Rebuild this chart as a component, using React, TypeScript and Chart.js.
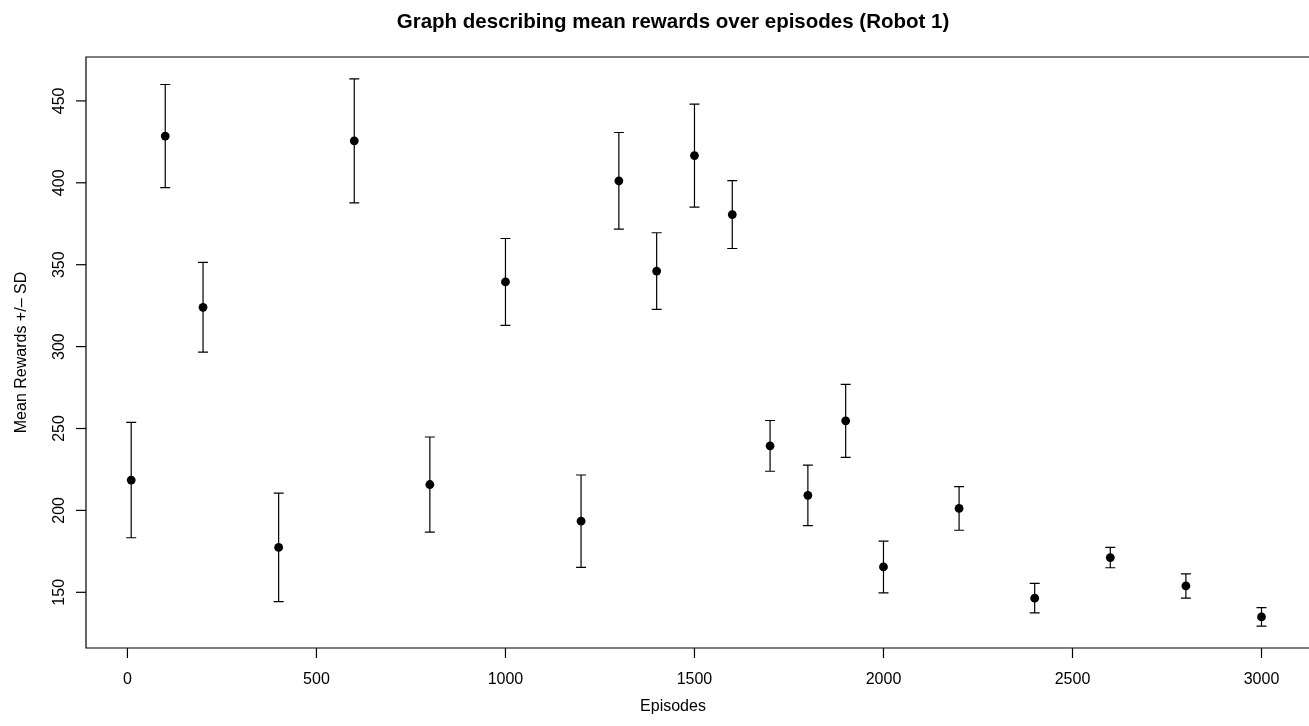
import React, { useEffect, useRef } from "react";
import { Chart, registerables } from "chart.js";

Chart.register(...registerables);

// ---- data ----
const episodes = [10, 100, 200, 400, 600, 800, 1000, 1200, 1300, 1400, 1500, 1600, 1700, 1800, 1900, 2000, 2200, 2400, 2600, 2800, 3000];
const meanRewards = [218.5, 428.5, 324.0, 177.4, 425.6, 215.8, 339.5, 193.4, 401.2, 346.1, 416.6, 380.6, 239.4, 209.2, 254.7, 165.5, 201.2, 146.4, 171.2, 153.9, 135.0];
const sdRewards = [35.2, 31.5, 27.4, 33.1, 37.8, 29.0, 26.5, 28.2, 29.5, 23.4, 31.4, 20.7, 15.5, 18.5, 22.3, 15.8, 13.3, 9.0, 6.2, 7.4, 5.6];

const xTicks = [0, 500, 1000, 1500, 2000, 2500, 3000];
const yTicks = [150, 200, 250, 300, 350, 400, 450];

const chartTitle = "Graph describing mean rewards over episodes (Robot 1)";
const xLabel = "Episodes";
const yLabel = "Mean Rewards +/\u2013 SD";

const FONT = '"Liberation Sans", Arial, Helvetica, sans-serif';

const rPlotPlugin = {
  id: "rPlot",
  beforeDatasetsDraw(chart: any) {
    const { ctx, scales } = chart;
    const x = scales.x;
    const y = scales.y;
    ctx.save();
    ctx.strokeStyle = "#000";
    ctx.lineWidth = 1.2;
    episodes.forEach((e, i) => {
      const px = x.getPixelForValue(e);
      const top = y.getPixelForValue(meanRewards[i] + sdRewards[i]);
      const bot = y.getPixelForValue(meanRewards[i] - sdRewards[i]);
      ctx.beginPath();
      ctx.moveTo(px, top);
      ctx.lineTo(px, bot);
      ctx.moveTo(px - 5, top);
      ctx.lineTo(px + 5, top);
      ctx.moveTo(px - 5, bot);
      ctx.lineTo(px + 5, bot);
      ctx.stroke();
    });
    ctx.restore();
  },
  afterDraw(chart: any) {
    const { ctx, chartArea: a, scales } = chart;
    const x = scales.x;
    const y = scales.y;
    ctx.save();
    ctx.strokeStyle = "#000";
    ctx.lineWidth = 1.2;
    // box (right side falls outside the picture)
    ctx.beginPath();
    ctx.moveTo(a.right + 5, a.top);
    ctx.lineTo(a.left, a.top);
    ctx.lineTo(a.left, a.bottom);
    ctx.lineTo(a.right + 5, a.bottom);
    ctx.stroke();

    // x ticks
    ctx.fillStyle = "#000";
    ctx.font = `16px ${FONT}`;
    ctx.textAlign = "center";
    ctx.textBaseline = "alphabetic";
    xTicks.forEach((t) => {
      const px = x.getPixelForValue(t);
      ctx.beginPath();
      ctx.moveTo(px, a.bottom);
      ctx.lineTo(px, a.bottom + 10);
      ctx.stroke();
      ctx.fillText(String(t), px, a.bottom + 36);
    });

    // y ticks (rotated labels, R style)
    yTicks.forEach((t) => {
      const py = y.getPixelForValue(t);
      ctx.beginPath();
      ctx.moveTo(a.left, py);
      ctx.lineTo(a.left - 10, py);
      ctx.stroke();
      ctx.save();
      ctx.translate(a.left - 22.5, py);
      ctx.rotate(-Math.PI / 2);
      ctx.fillText(String(t), 0, 0);
      ctx.restore();
    });

    // axis titles
    ctx.fillText(xLabel, 673, 711);
    ctx.save();
    ctx.translate(26, (a.top + a.bottom) / 2);
    ctx.rotate(-Math.PI / 2);
    ctx.fillText(yLabel, 0, 0);
    ctx.restore();

    // main title
    ctx.font = `bold 20.5px ${FONT}`;
    ctx.fillText(chartTitle, 673, 28);
    ctx.restore();
  },
};

export default function App() {
  const canvasRef = useRef<HTMLCanvasElement | null>(null);

  useEffect(() => {
    document.body.style.margin = "0";
    document.body.style.overflow = "hidden";
    const canvas = canvasRef.current;
    if (!canvas) return;
    const chart = new Chart(canvas, {
      type: "scatter",
      data: {
        datasets: [
          {
            data: episodes.map((e, i) => ({ x: e, y: meanRewards[i] })),
            pointRadius: 4.4,
            pointHoverRadius: 4.4,
            pointBackgroundColor: "#000",
            pointBorderWidth: 0,
            showLine: false,
          },
        ],
      },
      options: {
        animation: false,
        responsive: false,
        devicePixelRatio: 1,
        layout: { padding: { left: 86, top: 57, right: 0, bottom: 78 } },
        plugins: {
          legend: { display: false },
          title: { display: false },
          tooltip: { enabled: false },
        },
        events: [],
        scales: {
          x: { type: "linear", display: false, min: -109.6, max: 3114 },
          y: { type: "linear", display: false, min: 116, max: 476.8 },
        },
      },
      plugins: [rPlotPlugin],
    });
    return () => chart.destroy();
  }, []);

  return (
    <div style={{ position: "absolute", left: 0, top: 0, width: 1309, height: 726, background: "#fff" }}>
      <canvas ref={canvasRef} width={1309} height={726} style={{ display: "block" }} />
    </div>
  );
}
